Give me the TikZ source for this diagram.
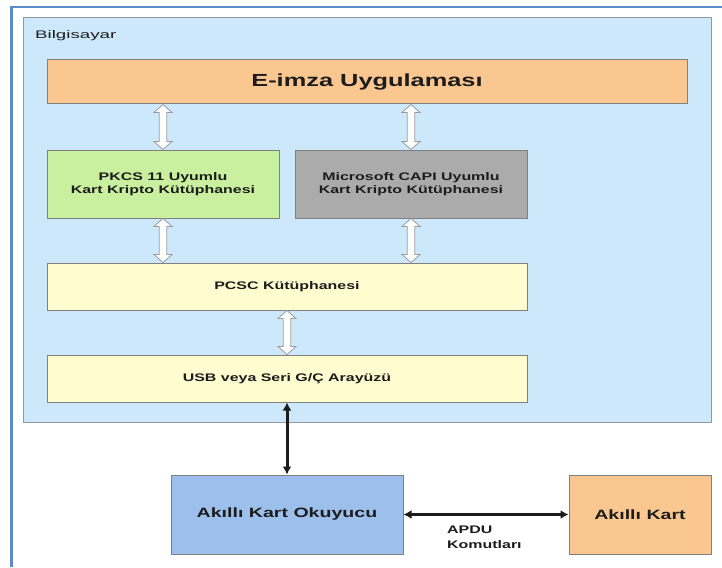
\documentclass[tikz,border=0pt]{standalone}
\usepackage{fontspec}
\setmainfont{Liberation Sans}[FakeStretch=1.45]
\newfontfamily\captionfont{Liberation Sans}[FakeStretch=1.7]
\usetikzlibrary{calc,arrows.meta}

\definecolor{framec}{HTML}{5B8BCB}
\definecolor{panelc}{HTML}{CCE8FA}
\definecolor{panelline}{HTML}{8E9AA0}
\definecolor{peach}{HTML}{FAC791}
\definecolor{greenc}{HTML}{C9F09E}
\definecolor{grayc}{HTML}{ABABAB}
\definecolor{creamc}{HTML}{FFFCD0}
\definecolor{bluec}{HTML}{9CC0EB}
\definecolor{boxline}{HTML}{808080}
\definecolor{inkc}{HTML}{1C1C1C}
\definecolor{hollowline}{HTML}{9A9A9A}

\tikzset{
  box/.style={draw=boxline, line width=1pt, rectangle, inner sep=0pt,
    text=inkc, font=\bfseries\fontsize{11}{12.5}\selectfont, align=center},
  bigbox/.style={box, font=\bfseries\fontsize{13.5}{16}\selectfont},
  hollow/.style={draw=hollowline, fill=white, line width=0.8pt,
    to path={
      (\tikztostart) -- ($(\tikztostart)+(9pt,-8pt)$) -- ($(\tikztostart)+(3.8pt,-8pt)$)
      -- ($(\tikztotarget)+(3.8pt,8pt)$) -- ($(\tikztotarget)+(9pt,8pt)$) -- (\tikztotarget)
      -- ($(\tikztotarget)+(-9pt,8pt)$) -- ($(\tikztotarget)+(-3.8pt,8pt)$)
      -- ($(\tikztostart)+(-3.8pt,-8pt)$) -- ($(\tikztostart)+(-9pt,-8pt)$) -- cycle}},
  blk/.style={draw=inkc, line width=3pt,
    {Latex[length=8pt,width=9pt]}-{Latex[length=8pt,width=9pt]}}
}

\begin{document}
\begin{tikzpicture}[x=1pt, y=-1pt]
\useasboundingbox (0,0) rectangle (722,567);
\fill[white] (0,0) rectangle (722,567);

% outer page frame
\draw[framec, line width=2.5pt] (11.5,567) -- (11.5,7) -- (722,7);

% computer panel
\node[draw=panelline, fill=panelc, line width=1pt, minimum width=688pt,
  minimum height=404pt, inner sep=0pt] (pc) at (367,220) {};
\node[anchor=base west, inner sep=0pt, text=inkc,
  font=\captionfont\fontsize{11}{13}\selectfont] (pclabel) at (35,39) {Bilgisayar};

% software layers
\node[box, fill=peach, minimum width=640pt, minimum height=44pt,
  font=\bfseries\fontsize{17.5}{20}\selectfont] (E) at (367,82) {E-imza Uygulaması};
\node[box, fill=greenc, minimum width=232pt, minimum height=68pt] (P) at (163,184)
  {PKCS 11 Uyumlu\\Kart Kripto Kütüphanesi};
\node[box, fill=grayc, minimum width=232pt, minimum height=68pt] (C) at (411,184)
  {Microsoft CAPI Uyumlu\\Kart Kripto Kütüphanesi};
\node[box, fill=creamc, minimum width=480pt, minimum height=47pt] (S) at (287,286.5)
  {PCSC Kütüphanesi};
\node[box, fill=creamc, minimum width=480pt, minimum height=47pt] (U) at (287,378.5)
  {USB veya Seri G/Ç Arayüzü};

% hardware
\node[bigbox, fill=bluec, minimum width=232pt, minimum height=79pt] (O) at (287,514.5)
  {Akıllı Kart Okuyucu};
\node[bigbox, fill=peach, minimum width=142pt, minimum height=79pt] (K) at (640,514.5)
  {Akıllı Kart};

% hollow double arrows between layers
\coordinate (eP) at (P.north |- E.south);
\coordinate (eC) at (C.north |- E.south);
\coordinate (sP) at (P.south |- S.north);
\coordinate (sC) at (C.south |- S.north);
\draw[hollow] (eP) to (P.north);
\draw[hollow] (eC) to (C.north);
\draw[hollow] (P.south) to (sP);
\draw[hollow] (C.south) to (sC);
\draw[hollow] (S.south) to (U.north);

% physical links
\draw[blk] (U.south) -- (O.north);
\draw[blk] (O.east) -- (K.west);
\node[anchor=north west, inner sep=0pt, align=left, text=inkc,
  font=\bfseries\fontsize{11}{15}\selectfont] (apdu) at (447,526) {APDU\\Komutları};
\end{tikzpicture}
\end{document}
